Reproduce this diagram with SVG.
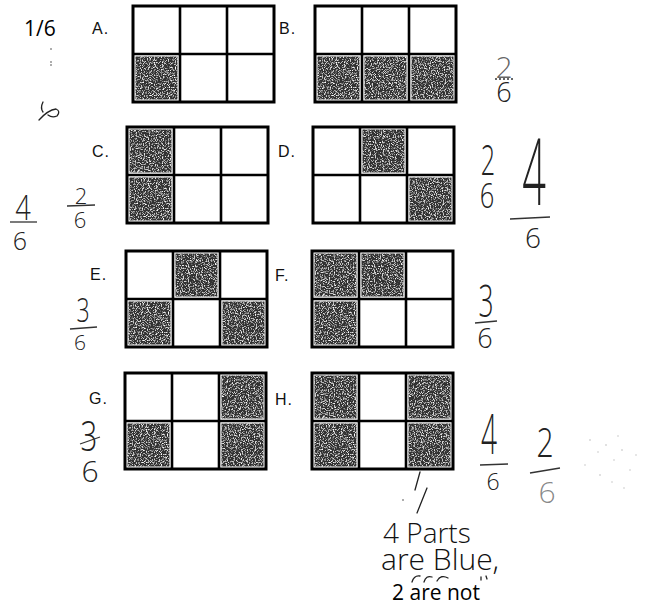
<svg xmlns="http://www.w3.org/2000/svg" width="654" height="607" viewBox="0 0 654 607">
<style>
.lbl{font-family:"Liberation Sans",Arial,sans-serif;font-size:16px;fill:#111;letter-spacing:1px}
.typed{font-family:"Open Sans","Noto Sans",sans-serif;fill:#000}
.hw{font-family:"Open Sans","DejaVu Sans",sans-serif;font-weight:300;fill:#222;text-anchor:middle}
.hwt{font-family:"Open Sans","DejaVu Sans",sans-serif;font-weight:300;fill:#111}
.bar{stroke:#333;stroke-width:1.3;fill:none}
.frame{fill:none;stroke:#000;stroke-width:3}
.div{stroke:#000;stroke-width:2.6}
.sh{fill:#333;filter:url(#speck)}
.mark{fill:none;stroke:#222;stroke-width:1.3;stroke-linecap:round}
</style>
<defs>
<filter id="speck" x="0" y="0" width="1" height="1">
<feTurbulence type="fractalNoise" baseFrequency="0.85" numOctaves="2" seed="4" result="n"/>
<feColorMatrix in="n" type="matrix" values="0 0 0 0 1 0 0 0 0 1 0 0 0 0 1 3.2 0 0 0 -1.6" result="w"/>
<feComposite in="w" in2="SourceGraphic" operator="in" result="wc"/>
<feMerge><feMergeNode in="SourceGraphic"/><feMergeNode in="wc"/></feMerge>
</filter>
<g id="frame">
<rect class="frame" x="0" y="0" width="141" height="96"/>
<line class="div" x1="47" y1="0" x2="47" y2="96"/>
<line class="div" x1="94" y1="0" x2="94" y2="96"/>
<line class="div" x1="0" y1="48" x2="141" y2="48"/>
</g>
</defs>
<rect width="654" height="607" fill="#fff"/>

<text class="typed" x="24" y="36" font-size="21">1/6</text>
<circle cx="51" cy="49" r="0.8" fill="#444"/>
<circle cx="51" cy="62" r="0.8" fill="#444"/>
<circle cx="51" cy="65" r="0.8" fill="#444"/>
<path class="mark" d="M43 102 Q40 108 43 112 M39 120 Q48 110 56 109 Q61 111 57 116 Q52 118 48 115"/>

<g id="gridA" transform="translate(133,6)">
<rect class="sh" x="2.5" y="50.5" width="42" height="43"/>
<use href="#frame"/>
<text class="lbl" x="-41" y="28">A.</text>
</g>
<g id="gridB" transform="translate(315,6)">
<rect class="sh" x="2.5" y="50.5" width="42" height="43"/>
<rect class="sh" x="49.5" y="50.5" width="42" height="43"/>
<rect class="sh" x="96.5" y="50.5" width="42" height="43"/>
<use href="#frame"/>
<text class="lbl" x="-36" y="28">B.</text>
</g>
<g id="gridC" transform="translate(127,127)">
<rect class="sh" x="2.5" y="2.5" width="42" height="43"/>
<rect class="sh" x="2.5" y="50.5" width="42" height="43"/>
<use href="#frame"/>
<text class="lbl" x="-35" y="30">C.</text>
</g>
<g id="gridD" transform="translate(313,127)">
<rect class="sh" x="49.5" y="2.5" width="42" height="43"/>
<rect class="sh" x="96.5" y="50.5" width="42" height="43"/>
<use href="#frame"/>
<text class="lbl" x="-35" y="30">D.</text>
</g>
<g id="gridE" transform="translate(126,251)">
<rect class="sh" x="49.5" y="2.5" width="42" height="43"/>
<rect class="sh" x="2.5" y="50.5" width="42" height="43"/>
<rect class="sh" x="96.5" y="50.5" width="42" height="43"/>
<use href="#frame"/>
<text class="lbl" x="-36" y="29">E.</text>
</g>
<g id="gridF" transform="translate(312,251)">
<rect class="sh" x="2.5" y="2.5" width="42" height="43"/>
<rect class="sh" x="49.5" y="2.5" width="42" height="43"/>
<rect class="sh" x="2.5" y="50.5" width="42" height="43"/>
<use href="#frame"/>
<text class="lbl" x="-37" y="30">F.</text>
</g>
<g id="gridG" transform="translate(125,373)">
<rect class="sh" x="96.5" y="2.5" width="42" height="43"/>
<rect class="sh" x="2.5" y="50.5" width="42" height="43"/>
<rect class="sh" x="96.5" y="50.5" width="42" height="43"/>
<use href="#frame"/>
<text class="lbl" x="-36" y="31">G.</text>
</g>
<g id="gridH" transform="translate(312,373)">
<rect class="sh" x="2.5" y="2.5" width="42" height="43"/>
<rect class="sh" x="96.5" y="2.5" width="42" height="43"/>
<rect class="sh" x="2.5" y="50.5" width="42" height="43"/>
<rect class="sh" x="96.5" y="50.5" width="42" height="43"/>
<use href="#frame"/>
<text class="lbl" x="-37" y="32">H.</text>
</g>

<g id="notes">
<text class="hw" x="504" y="78" font-size="30" fill-opacity="0.7">2</text>
<line class="bar" x1="495" y1="79" x2="514" y2="79" stroke-dasharray="2 2"/>
<text class="hw" x="504" y="102" font-size="27">6</text>

<text class="hw" transform="translate(23,220) scale(0.8,1)" font-size="34">4</text>
<line class="bar" x1="10" y1="222" x2="37" y2="222"/>
<text class="hw" x="20" y="250" font-size="25">6</text>

<text class="hw" x="81" y="204" font-size="22">2</text>
<line class="bar" x1="67" y1="206" x2="95" y2="205"/>
<text class="hw" x="80" y="228" font-size="22">6</text>

<text class="hw" transform="translate(488,175) scale(0.6,1)" font-size="42">2</text>
<text class="hw" transform="translate(487,208) scale(0.75,1)" font-size="34">6</text>

<text class="hw" transform="translate(534,205) scale(0.45,1)" font-size="92">4</text>
<line class="bar" x1="510" y1="219" x2="550" y2="217"/>
<text class="hw" x="533" y="248" font-size="28">6</text>

<text class="hw" transform="translate(83,322) scale(0.7,1)" font-size="33">3</text>
<line class="bar" x1="70" y1="329" x2="97" y2="327"/>
<text class="hw" x="80" y="350" font-size="21">6</text>

<text class="hw" transform="translate(486,317) scale(0.6,1)" font-size="44">3</text>
<line class="bar" x1="475" y1="323" x2="497" y2="321"/>
<text class="hw" x="485" y="348" font-size="27">6</text>

<text class="hw" transform="translate(89,451) scale(0.7,1)" font-size="42">3</text>
<line class="bar" x1="80" y1="444" x2="100" y2="437"/>
<text class="hw" x="90" y="482" font-size="30">6</text>

<text class="hw" transform="translate(489,454) scale(0.5,1)" font-size="56">4</text>
<line class="bar" x1="480" y1="465" x2="508" y2="464"/>
<text class="hw" x="493" y="490" font-size="23">6</text>

<text class="hw" transform="translate(545,457) scale(0.75,1)" font-size="40">2</text>
<line class="bar" x1="530" y1="473" x2="560" y2="468"/>
<text class="hw" x="547" y="503" font-size="30" fill-opacity="0.55">6</text>

<g fill="#bbb">
<circle cx="590" cy="440" r="0.8"/><circle cx="598" cy="452" r="0.7"/><circle cx="606" cy="445" r="0.8"/>
<circle cx="614" cy="460" r="0.7"/><circle cx="622" cy="450" r="0.8"/><circle cx="630" cy="470" r="0.7"/>
<circle cx="600" cy="475" r="0.8"/><circle cx="612" cy="482" r="0.7"/><circle cx="585" cy="465" r="0.7"/>
<circle cx="618" cy="436" r="0.7"/><circle cx="636" cy="455" r="0.7"/><circle cx="624" cy="488" r="0.7"/>
</g>
<path class="mark" d="M420 472 L415 490 M427 488 L417 513"/>
<circle cx="403" cy="500" r="0.8" fill="#444"/>
<text class="hwt" x="383" y="543" font-size="28">4 Parts</text>
<text class="hwt" x="381" y="570" font-size="30">are Blue,</text>
<path class="mark" d="M412 582 Q414 575 420 576 M424 582 Q426 575 432 577 M437 581 Q441 574 448 578 M481 577 L481 580 M486 576 L487 579"/>
</g>
<text class="typed" x="392" y="600" font-size="21">2 are not</text>
</svg>
